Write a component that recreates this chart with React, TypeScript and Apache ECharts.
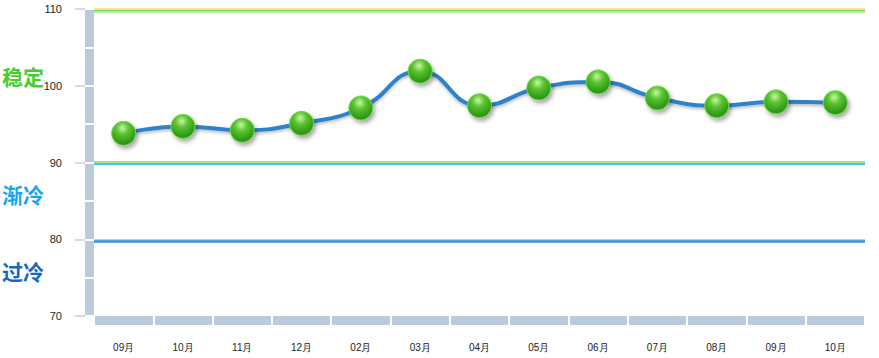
import React, { useEffect, useRef } from "react";
import * as echarts from "echarts";

const categories = ["09月", "10月", "11月", "12月", "02月", "03月", "04月", "05月", "06月", "07月", "08月", "09月", "10月"];
const values = [93.8, 94.7, 94.2, 95.1, 97.1, 101.9, 97.4, 99.7, 100.5, 98.4, 97.4, 97.9, 97.8];
const yTicks = { min: 70, max: 110, step: 10 };
const levelLabels = ["稳定", "渐冷", "过冷"];
const levelValues = [110, 90, 80];

export default function App() {
  const ref = useRef<HTMLDivElement>(null);
  useEffect(() => {
    if (!ref.current) return;
    const chart = echarts.init(ref.current, undefined, { renderer: "svg" });
    const band = (v: number, d: number, color: string, width: number) => ({
      yAxis: v + d,
      lineStyle: { color, width, type: "solid" },
    });
    const option: any = {
      animation: false,
      grid: { left: 94, right: 14, top: 9, bottom: 42 },
      xAxis: [
        {
          type: "category",
          data: categories,
          boundaryGap: true,
          position: "bottom",
          offset: 4.5,
          axisLine: { show: true, lineStyle: { color: "#bccbdb", width: 9, cap: "butt" } },
          axisTick: { show: false },
          axisLabel: { margin: 22, fontSize: 10, color: "#222", fontFamily: "Liberation Sans" },
          splitLine: { show: false },
        },
        {
          type: "category",
          data: categories,
          boundaryGap: true,
          position: "bottom",
          offset: 0,
          axisLine: { show: false },
          axisTick: { show: true, length: 9, lineStyle: { color: "#ffffff", width: 2 } },
          axisLabel: { show: false },
        },
      ],
      yAxis: [
        {
          type: "value",
          position: "left",
          min: yTicks.min,
          max: yTicks.max,
          interval: yTicks.step,
          offset: 5,
          axisLine: { show: true, lineStyle: { color: "#bccbdb", width: 9, cap: "butt" } },
          axisTick: { show: false },
          axisLabel: { margin: 27, fontSize: 11, color: "#222", fontFamily: "Liberation Sans" },
          splitLine: { show: false },
        },
        {
          type: "value",
          position: "left",
          min: yTicks.min,
          max: yTicks.max,
          interval: yTicks.step,
          offset: 9,
          axisLine: { show: false },
          axisTick: { show: true, length: 10, lineStyle: { color: "#d3dce6", width: 2 } },
          axisLabel: { show: false },
          splitLine: { show: false },
        },
        {
          type: "value",
          position: "left",
          min: yTicks.min,
          max: yTicks.max,
          interval: yTicks.step / 2,
          offset: 9,
          axisLine: { show: false },
          axisTick: { show: true, inside: true, length: 9, lineStyle: { color: "#ffffff", width: 2 } },
          axisLabel: { show: false },
          splitLine: { show: false },
        },
      ],
      graphic: [
        { type: "text", left: 2, top: 65, style: { text: levelLabels[0], fill: "#45cf2b", font: "bold 21px 'Noto Sans CJK SC'" } },
        { type: "text", left: 2, top: 183, style: { text: levelLabels[1], fill: "#1aa6ec", font: "bold 21px 'Noto Sans CJK SC'" } },
        { type: "text", left: 2, top: 260, style: { text: levelLabels[2], fill: "#1567c2", font: "bold 21px 'Noto Sans CJK SC'" } },
      ],
      series: [
        {
          type: "line",
          data: [],
          silent: true,
          z: 1,
          markLine: {
            silent: true,
            symbol: ["none", "none"],
            label: { show: false },
            data: [
              band(levelValues[0], 0.0, "#f9e39a", 2),
              band(levelValues[0], -0.2, "#74d44f", 2),
              band(levelValues[0], -0.42, "#b6eca0", 2),
              band(levelValues[1], 0.05, "#a9e48e", 2),
              band(levelValues[1], -0.18, "#44c4f0", 2),
              band(levelValues[2], 0.0, "#a8d8f2", 2),
              band(levelValues[2], -0.27, "#3f8fd8", 2.5),
            ],
          },
        },
        {
          type: "line",
          data: values,
          smooth: 0.5,
          z: 3,
          symbol: "circle",
          symbolSize: 24,
          lineStyle: {
            color: "#2e82c9",
            width: 4,
            shadowColor: "rgba(0,0,0,0.25)",
            shadowBlur: 3,
            shadowOffsetY: 2,
          },
          itemStyle: {
            color: new echarts.graphic.RadialGradient(0.45, 0.28, 0.75, [
              { offset: 0, color: "#c9f5a8" },
              { offset: 0.35, color: "#5cc430" },
              { offset: 0.75, color: "#35a01b" },
              { offset: 1, color: "#2b8c14" },
            ]),
            borderColor: "#6fd848",
            borderWidth: 1,
            shadowColor: "rgba(0,0,0,0.35)",
            shadowBlur: 4,
            shadowOffsetX: 2,
            shadowOffsetY: 3,
          },
        },
      ],
    };
    chart.setOption(option);
    return () => chart.dispose();
  }, []);
  return (
    <div
      ref={ref}
      style={{ position: "absolute", left: 0, top: 0, width: 879, height: 358, background: "#fff" }}
    />
  );
}
